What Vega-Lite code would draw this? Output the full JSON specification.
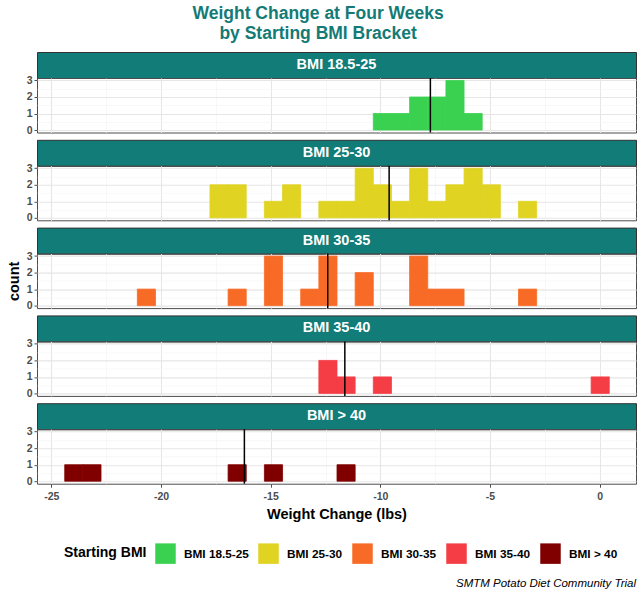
{
  "$schema": "https://vega.github.io/schema/vega-lite/v6.json",
  "padding": {"left": 5, "top": 5, "right": 5, "bottom": 5},
  "datasets": {
    "w": [
      {"bmi": "BMI 18.5-25", "change": -10.2}, {"bmi": "BMI 18.5-25", "change": -9.4}, {"bmi": "BMI 18.5-25", "change": -8.6}, {"bmi": "BMI 18.5-25", "change": -8.2}, {"bmi": "BMI 18.5-25", "change": -7.8}, {"bmi": "BMI 18.5-25", "change": -7.64}, {"bmi": "BMI 18.5-25", "change": -6.9}, {"bmi": "BMI 18.5-25", "change": -6.8}, {"bmi": "BMI 18.5-25", "change": -6.4}, {"bmi": "BMI 18.5-25", "change": -5.6},
      {"bmi": "BMI 25-30", "change": -17.4}, {"bmi": "BMI 25-30", "change": -17.2}, {"bmi": "BMI 25-30", "change": -16.6}, {"bmi": "BMI 25-30", "change": -16.4}, {"bmi": "BMI 25-30", "change": -14.8}, {"bmi": "BMI 25-30", "change": -14.2}, {"bmi": "BMI 25-30", "change": -13.8}, {"bmi": "BMI 25-30", "change": -12.4}, {"bmi": "BMI 25-30", "change": -11.6}, {"bmi": "BMI 25-30", "change": -11.0}, {"bmi": "BMI 25-30", "change": -10.8}, {"bmi": "BMI 25-30", "change": -10.6}, {"bmi": "BMI 25-30", "change": -10.0}, {"bmi": "BMI 25-30", "change": -9.6}, {"bmi": "BMI 25-30", "change": -9.0}, {"bmi": "BMI 25-30", "change": -8.4}, {"bmi": "BMI 25-30", "change": -8.2}, {"bmi": "BMI 25-30", "change": -8.0}, {"bmi": "BMI 25-30", "change": -7.4}, {"bmi": "BMI 25-30", "change": -6.8}, {"bmi": "BMI 25-30", "change": -6.4}, {"bmi": "BMI 25-30", "change": -6.0}, {"bmi": "BMI 25-30", "change": -5.8}, {"bmi": "BMI 25-30", "change": -5.6}, {"bmi": "BMI 25-30", "change": -5.2}, {"bmi": "BMI 25-30", "change": -4.8}, {"bmi": "BMI 25-30", "change": -3.2},
      {"bmi": "BMI 30-35", "change": -20.6}, {"bmi": "BMI 30-35", "change": -16.6}, {"bmi": "BMI 30-35", "change": -15.0}, {"bmi": "BMI 30-35", "change": -14.8}, {"bmi": "BMI 30-35", "change": -14.6}, {"bmi": "BMI 30-35", "change": -13.2}, {"bmi": "BMI 30-35", "change": -12.7}, {"bmi": "BMI 30-35", "change": -12.6}, {"bmi": "BMI 30-35", "change": -12.4}, {"bmi": "BMI 30-35", "change": -11.0}, {"bmi": "BMI 30-35", "change": -10.6}, {"bmi": "BMI 30-35", "change": -8.6}, {"bmi": "BMI 30-35", "change": -8.4}, {"bmi": "BMI 30-35", "change": -8.0}, {"bmi": "BMI 30-35", "change": -7.4}, {"bmi": "BMI 30-35", "change": -6.6}, {"bmi": "BMI 30-35", "change": -3.2},
      {"bmi": "BMI 35-40", "change": -12.6}, {"bmi": "BMI 35-40", "change": -12.3}, {"bmi": "BMI 35-40", "change": -11.62}, {"bmi": "BMI 35-40", "change": -10.0}, {"bmi": "BMI 35-40", "change": 0.0},
      {"bmi": "BMI > 40", "change": -24.0}, {"bmi": "BMI > 40", "change": -23.2}, {"bmi": "BMI > 40", "change": -16.2}, {"bmi": "BMI > 40", "change": -14.9}, {"bmi": "BMI > 40", "change": -11.6}
    ]
  },
  "title": {
    "text": ["Weight Change at Four Weeks", "  by Starting BMI Bracket"],
    "anchor": "middle", "dx": -3, "fontSize": 17.5, "fontWeight": "bold", "font": "Liberation Sans",
    "color": "#137A76", "lineHeight": 20, "offset": 9
  },
  "spacing": 1.8,
  "vconcat": [
    {
      "spacing": 0, "bounds": "flush",
      "vconcat": [
        {"data": {"values": [{"label": "BMI 18.5-25"}]}, "width": 599, "height": 26, "view": {"fill": "#127C78", "stroke": "#333333"},
         "mark": {"type": "text", "color": "white", "fontWeight": "bold", "fontSize": 14.5, "font": "Liberation Sans", "baseline": "middle", "align": "center"},
         "encoding": {"text": {"field": "label"}}},
        {"data": {"name": "w"}, "transform": [{"filter": "datum.bmi === 'BMI 18.5-25'"}], "width": 599, "height": 54.5, "view": {"stroke": "#4D4D4D"},
         "layer": [
           {"mark": {"type": "bar", "binSpacing": 0, "strokeWidth": 0.8},
            "encoding": {
              "x": {"field": "change", "type": "quantitative", "bin": {"extent": [-24.41379, 0.41379], "step": 0.827586, "nice": false},
                    "scale": {"domain": [-25.655, 1.655], "nice": false, "zero": false},
                    "axis": {"values": [-25, -22.5, -20, -17.5, -15, -12.5, -10, -7.5, -5, -2.5, 0], "labels": false, "ticks": false, "domain": false, "title": null,
                             "gridColor": {"condition": {"test": "datum.value % 5 === 0", "value": "#E6E6E6"}, "value": "#F3F3F3"},
                             "gridWidth": {"condition": {"test": "datum.value % 5 === 0", "value": 1.1}, "value": 0.6}}},
              "y": {"aggregate": "count", "type": "quantitative", "scale": {"domain": [-0.15, 3.15], "nice": false, "zero": false},
                    "axis": {"values": [0, 0.5, 1, 1.5, 2, 2.5, 3], "title": "count", "titleColor": "rgba(0,0,0,0)", "titlePadding": 5, "labelExpr": "datum.value % 1 === 0 ? '' + datum.value : ''", "labelOverlap": false, "labelFlush": false, "labelPadding": 2,
                             "tickSize": {"condition": {"test": "datum.value % 1 === 0", "value": 3}, "value": 0},
                             "gridColor": {"condition": {"test": "datum.value % 1 === 0", "value": "#E6E6E6"}, "value": "#F3F3F3"},
                             "gridWidth": {"condition": {"test": "datum.value % 1 === 0", "value": 1.1}, "value": 0.6}}},
              "stroke": {"field": "bmi", "type": "nominal", "legend": null,
                        "scale": {"domain": ["BMI 18.5-25", "BMI 25-30", "BMI 30-35", "BMI 35-40", "BMI > 40"], "range": ["#3BD150", "#E0D322", "#F86B26", "#F53D46", "#800000"]}},
              "color": {"field": "bmi", "type": "nominal",
                        "scale": {"domain": ["BMI 18.5-25", "BMI 25-30", "BMI 30-35", "BMI 35-40", "BMI > 40"], "range": ["#3BD150", "#E0D322", "#F86B26", "#F53D46", "#800000"]},
                        "legend": {"title": "Starting BMI", "orient": "none", "legendX": 27, "legendY": 491, "direction": "horizontal", "titleOrient": "left", "titleAnchor": "middle", "titleBaseline": "middle", "titleFontSize": 14, "titleFontWeight": "bold", "titleColor": "black", "titleFont": "Liberation Sans", "titlePadding": 8, "symbolType": "square", "symbolSize": 420, "symbolStrokeWidth": 0, "symbolOpacity": 1, "labelFontSize": 11.8, "labelFontWeight": "bold", "labelColor": "black", "labelFont": "Liberation Sans", "labelOffset": 8, "columnPadding": 9}}
            }},
           {"mark": {"type": "rule", "color": "black", "strokeWidth": 1.5},
            "encoding": {"x": {"aggregate": "median", "field": "change", "type": "quantitative", "scale": {"domain": [-25.655, 1.655], "nice": false, "zero": false},
                    "axis": {"values": [-25, -22.5, -20, -17.5, -15, -12.5, -10, -7.5, -5, -2.5, 0], "labels": false, "ticks": false, "domain": false, "title": null,
                             "gridColor": {"condition": {"test": "datum.value % 5 === 0", "value": "#E6E6E6"}, "value": "#F3F3F3"},
                             "gridWidth": {"condition": {"test": "datum.value % 5 === 0", "value": 1.1}, "value": 0.6}}}}}
         ]}
      ]
    },
    {
      "spacing": 0, "bounds": "flush",
      "vconcat": [
        {"data": {"values": [{"label": "BMI 25-30"}]}, "width": 599, "height": 26, "view": {"fill": "#127C78", "stroke": "#333333"},
         "mark": {"type": "text", "color": "white", "fontWeight": "bold", "fontSize": 14.5, "font": "Liberation Sans", "baseline": "middle", "align": "center"},
         "encoding": {"text": {"field": "label"}}},
        {"data": {"name": "w"}, "transform": [{"filter": "datum.bmi === 'BMI 25-30'"}], "width": 599, "height": 54.5, "view": {"stroke": "#4D4D4D"},
         "layer": [
           {"mark": {"type": "bar", "binSpacing": 0, "strokeWidth": 0.8},
            "encoding": {
              "x": {"field": "change", "type": "quantitative", "bin": {"extent": [-24.41379, 0.41379], "step": 0.827586, "nice": false},
                    "scale": {"domain": [-25.655, 1.655], "nice": false, "zero": false},
                    "axis": {"values": [-25, -22.5, -20, -17.5, -15, -12.5, -10, -7.5, -5, -2.5, 0], "labels": false, "ticks": false, "domain": false, "title": null,
                             "gridColor": {"condition": {"test": "datum.value % 5 === 0", "value": "#E6E6E6"}, "value": "#F3F3F3"},
                             "gridWidth": {"condition": {"test": "datum.value % 5 === 0", "value": 1.1}, "value": 0.6}}},
              "y": {"aggregate": "count", "type": "quantitative", "scale": {"domain": [-0.15, 3.15], "nice": false, "zero": false},
                    "axis": {"values": [0, 0.5, 1, 1.5, 2, 2.5, 3], "title": "count", "titleColor": "rgba(0,0,0,0)", "titlePadding": 5, "labelExpr": "datum.value % 1 === 0 ? '' + datum.value : ''", "labelOverlap": false, "labelFlush": false, "labelPadding": 2,
                             "tickSize": {"condition": {"test": "datum.value % 1 === 0", "value": 3}, "value": 0},
                             "gridColor": {"condition": {"test": "datum.value % 1 === 0", "value": "#E6E6E6"}, "value": "#F3F3F3"},
                             "gridWidth": {"condition": {"test": "datum.value % 1 === 0", "value": 1.1}, "value": 0.6}}},
              "stroke": {"field": "bmi", "type": "nominal", "legend": null,
                        "scale": {"domain": ["BMI 18.5-25", "BMI 25-30", "BMI 30-35", "BMI 35-40", "BMI > 40"], "range": ["#3BD150", "#E0D322", "#F86B26", "#F53D46", "#800000"]}},
              "color": {"field": "bmi", "type": "nominal",
                        "scale": {"domain": ["BMI 18.5-25", "BMI 25-30", "BMI 30-35", "BMI 35-40", "BMI > 40"], "range": ["#3BD150", "#E0D322", "#F86B26", "#F53D46", "#800000"]},
                        "legend": {"title": "Starting BMI", "orient": "none", "legendX": 27, "legendY": 491, "direction": "horizontal", "titleOrient": "left", "titleAnchor": "middle", "titleBaseline": "middle", "titleFontSize": 14, "titleFontWeight": "bold", "titleColor": "black", "titleFont": "Liberation Sans", "titlePadding": 8, "symbolType": "square", "symbolSize": 420, "symbolStrokeWidth": 0, "symbolOpacity": 1, "labelFontSize": 11.8, "labelFontWeight": "bold", "labelColor": "black", "labelFont": "Liberation Sans", "labelOffset": 8, "columnPadding": 9}}
            }},
           {"mark": {"type": "rule", "color": "black", "strokeWidth": 1.5},
            "encoding": {"x": {"aggregate": "median", "field": "change", "type": "quantitative", "scale": {"domain": [-25.655, 1.655], "nice": false, "zero": false},
                    "axis": {"values": [-25, -22.5, -20, -17.5, -15, -12.5, -10, -7.5, -5, -2.5, 0], "labels": false, "ticks": false, "domain": false, "title": null,
                             "gridColor": {"condition": {"test": "datum.value % 5 === 0", "value": "#E6E6E6"}, "value": "#F3F3F3"},
                             "gridWidth": {"condition": {"test": "datum.value % 5 === 0", "value": 1.1}, "value": 0.6}}}}}
         ]}
      ]
    },
    {
      "spacing": 0, "bounds": "flush",
      "vconcat": [
        {"data": {"values": [{"label": "BMI 30-35"}]}, "width": 599, "height": 26, "view": {"fill": "#127C78", "stroke": "#333333"},
         "mark": {"type": "text", "color": "white", "fontWeight": "bold", "fontSize": 14.5, "font": "Liberation Sans", "baseline": "middle", "align": "center"},
         "encoding": {"text": {"field": "label"}}},
        {"data": {"name": "w"}, "transform": [{"filter": "datum.bmi === 'BMI 30-35'"}], "width": 599, "height": 54.5, "view": {"stroke": "#4D4D4D"},
         "layer": [
           {"mark": {"type": "bar", "binSpacing": 0, "strokeWidth": 0.8},
            "encoding": {
              "x": {"field": "change", "type": "quantitative", "bin": {"extent": [-24.41379, 0.41379], "step": 0.827586, "nice": false},
                    "scale": {"domain": [-25.655, 1.655], "nice": false, "zero": false},
                    "axis": {"values": [-25, -22.5, -20, -17.5, -15, -12.5, -10, -7.5, -5, -2.5, 0], "labels": false, "ticks": false, "domain": false, "title": null,
                             "gridColor": {"condition": {"test": "datum.value % 5 === 0", "value": "#E6E6E6"}, "value": "#F3F3F3"},
                             "gridWidth": {"condition": {"test": "datum.value % 5 === 0", "value": 1.1}, "value": 0.6}}},
              "y": {"aggregate": "count", "type": "quantitative", "scale": {"domain": [-0.15, 3.15], "nice": false, "zero": false},
                    "axis": {"values": [0, 0.5, 1, 1.5, 2, 2.5, 3], "title": "count", "titlePadding": 5, "labelExpr": "datum.value % 1 === 0 ? '' + datum.value : ''", "labelOverlap": false, "labelFlush": false, "labelPadding": 2,
                             "tickSize": {"condition": {"test": "datum.value % 1 === 0", "value": 3}, "value": 0},
                             "gridColor": {"condition": {"test": "datum.value % 1 === 0", "value": "#E6E6E6"}, "value": "#F3F3F3"},
                             "gridWidth": {"condition": {"test": "datum.value % 1 === 0", "value": 1.1}, "value": 0.6}}},
              "stroke": {"field": "bmi", "type": "nominal", "legend": null,
                        "scale": {"domain": ["BMI 18.5-25", "BMI 25-30", "BMI 30-35", "BMI 35-40", "BMI > 40"], "range": ["#3BD150", "#E0D322", "#F86B26", "#F53D46", "#800000"]}},
              "color": {"field": "bmi", "type": "nominal",
                        "scale": {"domain": ["BMI 18.5-25", "BMI 25-30", "BMI 30-35", "BMI 35-40", "BMI > 40"], "range": ["#3BD150", "#E0D322", "#F86B26", "#F53D46", "#800000"]},
                        "legend": {"title": "Starting BMI", "orient": "none", "legendX": 27, "legendY": 491, "direction": "horizontal", "titleOrient": "left", "titleAnchor": "middle", "titleBaseline": "middle", "titleFontSize": 14, "titleFontWeight": "bold", "titleColor": "black", "titleFont": "Liberation Sans", "titlePadding": 8, "symbolType": "square", "symbolSize": 420, "symbolStrokeWidth": 0, "symbolOpacity": 1, "labelFontSize": 11.8, "labelFontWeight": "bold", "labelColor": "black", "labelFont": "Liberation Sans", "labelOffset": 8, "columnPadding": 9}}
            }},
           {"mark": {"type": "rule", "color": "black", "strokeWidth": 1.5},
            "encoding": {"x": {"aggregate": "median", "field": "change", "type": "quantitative", "scale": {"domain": [-25.655, 1.655], "nice": false, "zero": false},
                    "axis": {"values": [-25, -22.5, -20, -17.5, -15, -12.5, -10, -7.5, -5, -2.5, 0], "labels": false, "ticks": false, "domain": false, "title": null,
                             "gridColor": {"condition": {"test": "datum.value % 5 === 0", "value": "#E6E6E6"}, "value": "#F3F3F3"},
                             "gridWidth": {"condition": {"test": "datum.value % 5 === 0", "value": 1.1}, "value": 0.6}}}}}
         ]}
      ]
    },
    {
      "spacing": 0, "bounds": "flush",
      "vconcat": [
        {"data": {"values": [{"label": "BMI 35-40"}]}, "width": 599, "height": 26, "view": {"fill": "#127C78", "stroke": "#333333"},
         "mark": {"type": "text", "color": "white", "fontWeight": "bold", "fontSize": 14.5, "font": "Liberation Sans", "baseline": "middle", "align": "center"},
         "encoding": {"text": {"field": "label"}}},
        {"data": {"name": "w"}, "transform": [{"filter": "datum.bmi === 'BMI 35-40'"}], "width": 599, "height": 54.5, "view": {"stroke": "#4D4D4D"},
         "layer": [
           {"mark": {"type": "bar", "binSpacing": 0, "strokeWidth": 0.8},
            "encoding": {
              "x": {"field": "change", "type": "quantitative", "bin": {"extent": [-24.41379, 0.41379], "step": 0.827586, "nice": false},
                    "scale": {"domain": [-25.655, 1.655], "nice": false, "zero": false},
                    "axis": {"values": [-25, -22.5, -20, -17.5, -15, -12.5, -10, -7.5, -5, -2.5, 0], "labels": false, "ticks": false, "domain": false, "title": null,
                             "gridColor": {"condition": {"test": "datum.value % 5 === 0", "value": "#E6E6E6"}, "value": "#F3F3F3"},
                             "gridWidth": {"condition": {"test": "datum.value % 5 === 0", "value": 1.1}, "value": 0.6}}},
              "y": {"aggregate": "count", "type": "quantitative", "scale": {"domain": [-0.15, 3.15], "nice": false, "zero": false},
                    "axis": {"values": [0, 0.5, 1, 1.5, 2, 2.5, 3], "title": "count", "titleColor": "rgba(0,0,0,0)", "titlePadding": 5, "labelExpr": "datum.value % 1 === 0 ? '' + datum.value : ''", "labelOverlap": false, "labelFlush": false, "labelPadding": 2,
                             "tickSize": {"condition": {"test": "datum.value % 1 === 0", "value": 3}, "value": 0},
                             "gridColor": {"condition": {"test": "datum.value % 1 === 0", "value": "#E6E6E6"}, "value": "#F3F3F3"},
                             "gridWidth": {"condition": {"test": "datum.value % 1 === 0", "value": 1.1}, "value": 0.6}}},
              "stroke": {"field": "bmi", "type": "nominal", "legend": null,
                        "scale": {"domain": ["BMI 18.5-25", "BMI 25-30", "BMI 30-35", "BMI 35-40", "BMI > 40"], "range": ["#3BD150", "#E0D322", "#F86B26", "#F53D46", "#800000"]}},
              "color": {"field": "bmi", "type": "nominal",
                        "scale": {"domain": ["BMI 18.5-25", "BMI 25-30", "BMI 30-35", "BMI 35-40", "BMI > 40"], "range": ["#3BD150", "#E0D322", "#F86B26", "#F53D46", "#800000"]},
                        "legend": {"title": "Starting BMI", "orient": "none", "legendX": 27, "legendY": 491, "direction": "horizontal", "titleOrient": "left", "titleAnchor": "middle", "titleBaseline": "middle", "titleFontSize": 14, "titleFontWeight": "bold", "titleColor": "black", "titleFont": "Liberation Sans", "titlePadding": 8, "symbolType": "square", "symbolSize": 420, "symbolStrokeWidth": 0, "symbolOpacity": 1, "labelFontSize": 11.8, "labelFontWeight": "bold", "labelColor": "black", "labelFont": "Liberation Sans", "labelOffset": 8, "columnPadding": 9}}
            }},
           {"mark": {"type": "rule", "color": "black", "strokeWidth": 1.5},
            "encoding": {"x": {"aggregate": "median", "field": "change", "type": "quantitative", "scale": {"domain": [-25.655, 1.655], "nice": false, "zero": false},
                    "axis": {"values": [-25, -22.5, -20, -17.5, -15, -12.5, -10, -7.5, -5, -2.5, 0], "labels": false, "ticks": false, "domain": false, "title": null,
                             "gridColor": {"condition": {"test": "datum.value % 5 === 0", "value": "#E6E6E6"}, "value": "#F3F3F3"},
                             "gridWidth": {"condition": {"test": "datum.value % 5 === 0", "value": 1.1}, "value": 0.6}}}}}
         ]}
      ]
    },
    {
      "spacing": 0, "bounds": "flush",
      "vconcat": [
        {"data": {"values": [{"label": "BMI > 40"}]}, "width": 599, "height": 26, "view": {"fill": "#127C78", "stroke": "#333333"},
         "mark": {"type": "text", "color": "white", "fontWeight": "bold", "fontSize": 14.5, "font": "Liberation Sans", "baseline": "middle", "align": "center"},
         "encoding": {"text": {"field": "label"}}},
        {"data": {"name": "w"}, "transform": [{"filter": "datum.bmi === 'BMI > 40'"}], "width": 599, "height": 54.5, "view": {"stroke": "#4D4D4D"},
         "title": {"text": "SMTM Potato Diet Community Trial", "orient": "bottom", "anchor": "end", "frame": "group", "fontStyle": "italic", "fontWeight": "normal", "fontSize": 11.5, "font": "Liberation Sans", "color": "black", "offset": 57},
         "layer": [
           {"mark": {"type": "bar", "binSpacing": 0, "strokeWidth": 0.8},
            "encoding": {
              "x": {"field": "change", "type": "quantitative", "bin": {"extent": [-24.41379, 0.41379], "step": 0.827586, "nice": false},
                    "scale": {"domain": [-25.655, 1.655], "nice": false, "zero": false},
                    "axis": {"values": [-25, -22.5, -20, -17.5, -15, -12.5, -10, -7.5, -5, -2.5, 0], "domain": false, "title": "Weight Change (lbs)", "titlePadding": 6,
                             "labelExpr": "datum.value % 5 === 0 ? '' + datum.value : ''", "labelOverlap": false, "labelFlush": false, "labelPadding": 4,
                             "tickSize": {"condition": {"test": "datum.value % 5 === 0", "value": 3.5}, "value": 0},
                             "gridColor": {"condition": {"test": "datum.value % 5 === 0", "value": "#E6E6E6"}, "value": "#F3F3F3"},
                             "gridWidth": {"condition": {"test": "datum.value % 5 === 0", "value": 1.1}, "value": 0.6}}},
              "y": {"aggregate": "count", "type": "quantitative", "scale": {"domain": [-0.15, 3.15], "nice": false, "zero": false},
                    "axis": {"values": [0, 0.5, 1, 1.5, 2, 2.5, 3], "title": "count", "titleColor": "rgba(0,0,0,0)", "titlePadding": 5, "labelExpr": "datum.value % 1 === 0 ? '' + datum.value : ''", "labelOverlap": false, "labelFlush": false, "labelPadding": 2,
                             "tickSize": {"condition": {"test": "datum.value % 1 === 0", "value": 3}, "value": 0},
                             "gridColor": {"condition": {"test": "datum.value % 1 === 0", "value": "#E6E6E6"}, "value": "#F3F3F3"},
                             "gridWidth": {"condition": {"test": "datum.value % 1 === 0", "value": 1.1}, "value": 0.6}}},
              "stroke": {"field": "bmi", "type": "nominal", "legend": null,
                        "scale": {"domain": ["BMI 18.5-25", "BMI 25-30", "BMI 30-35", "BMI 35-40", "BMI > 40"], "range": ["#3BD150", "#E0D322", "#F86B26", "#F53D46", "#800000"]}},
              "color": {"field": "bmi", "type": "nominal",
                        "scale": {"domain": ["BMI 18.5-25", "BMI 25-30", "BMI 30-35", "BMI 35-40", "BMI > 40"], "range": ["#3BD150", "#E0D322", "#F86B26", "#F53D46", "#800000"]},
                        "legend": {"title": "Starting BMI", "orient": "none", "legendX": 27, "legendY": 491, "direction": "horizontal", "titleOrient": "left", "titleAnchor": "middle", "titleBaseline": "middle", "titleFontSize": 14, "titleFontWeight": "bold", "titleColor": "black", "titleFont": "Liberation Sans", "titlePadding": 8, "symbolType": "square", "symbolSize": 420, "symbolStrokeWidth": 0, "symbolOpacity": 1, "labelFontSize": 11.8, "labelFontWeight": "bold", "labelColor": "black", "labelFont": "Liberation Sans", "labelOffset": 8, "columnPadding": 9}}
            }},
           {"mark": {"type": "rule", "color": "black", "strokeWidth": 1.5},
            "encoding": {"x": {"aggregate": "median", "field": "change", "type": "quantitative", "scale": {"domain": [-25.655, 1.655], "nice": false, "zero": false},
                    "axis": {"values": [-25, -22.5, -20, -17.5, -15, -12.5, -10, -7.5, -5, -2.5, 0], "domain": false, "title": "Weight Change (lbs)", "titlePadding": 6,
                             "labelExpr": "datum.value % 5 === 0 ? '' + datum.value : ''", "labelOverlap": false, "labelFlush": false, "labelPadding": 4,
                             "tickSize": {"condition": {"test": "datum.value % 5 === 0", "value": 3.5}, "value": 0},
                             "gridColor": {"condition": {"test": "datum.value % 5 === 0", "value": "#E6E6E6"}, "value": "#F3F3F3"},
                             "gridWidth": {"condition": {"test": "datum.value % 5 === 0", "value": 1.1}, "value": 0.6}}}}}
         ]}
      ]
    }
  ],
  "config": {
    "font": "Liberation Sans",
    "view": {"stroke": null},
    "bar": {"binSpacing": 0},
    "axis": {"labelFont": "Liberation Sans", "titleFont": "Liberation Sans", "labelFontWeight": "bold", "labelFontSize": 10.5, "labelColor": "#4D4D4D", "tickColor": "#4D4D4D", "tickWidth": 1, "titleFontSize": 14.5, "titleFontWeight": "bold", "titleColor": "#000000", "domain": false, "grid": true}
  }
}
